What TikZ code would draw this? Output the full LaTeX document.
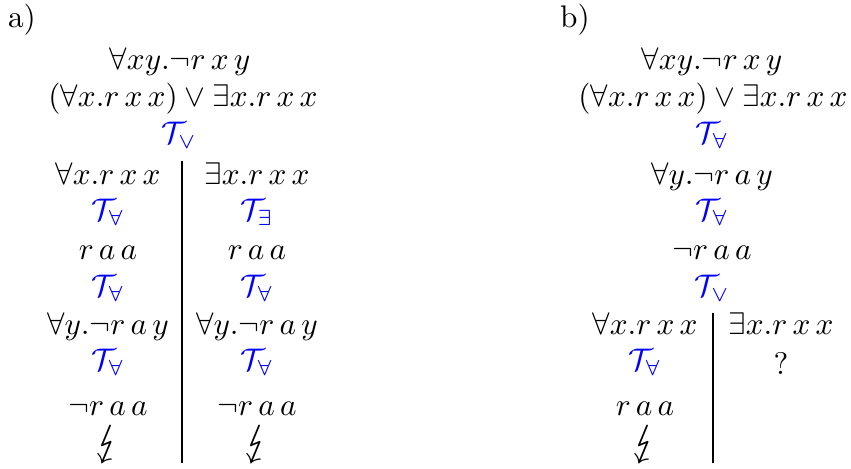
\documentclass[tikz,border=0pt]{standalone}
\usepackage{stmaryrd}
\newcommand{\bolt}{\scalebox{1.4}{$\lightning$}}
\begin{document}
\begin{tikzpicture}[x=0.32pt,y=-0.32pt,
  txt/.style={anchor=base,inner sep=0pt,outer sep=2pt},
  rule/.style={anchor=base,inner sep=0pt,outer sep=2pt,text=blue},
  branch/.style={line width=0.35pt}]
\useasboundingbox (0,0) rectangle (851,469);
% ---------- a) ----------
\node[txt] (la) at (22,28) {a)};
\node[txt] (a1) at (180,70) {$\forall xy.\neg r\,x\,y$};
\node[txt] (a2) at (183,107) {$(\forall x.r\,x\,x)\vee\exists x.r\,x\,x$};
\node[rule] (a3) at (179,144) {$\mathcal{T}_{\vee}$};
\coordinate (atop) at (182,161);
\coordinate (abot) at (182,463);
\draw[branch] (atop) -- (abot);
\node[txt] (aL1) at (108,185) {$\forall x.r\,x\,x$};
\node[rule] (aL2) at (108,221) {$\mathcal{T}_{\forall}$};
\node[txt] (aL3) at (108,260) {$r\,a\,a$};
\node[rule] (aL4) at (108,297) {$\mathcal{T}_{\forall}$};
\node[txt] (aL5) at (108,335) {$\forall y.\neg r\,a\,y$};
\node[rule] (aL6) at (108,371) {$\mathcal{T}_{\forall}$};
\node[txt] (aL7) at (108,416) {$\neg r\,a\,a$};
\node[txt] (aL8) at (108,456) {\bolt};
\node[txt] (aR1) at (257,185) {$\exists x.r\,x\,x$};
\node[rule] (aR2) at (257,221) {$\mathcal{T}_{\exists}$};
\node[txt] (aR3) at (257,260) {$r\,a\,a$};
\node[rule] (aR4) at (257,297) {$\mathcal{T}_{\forall}$};
\node[txt] (aR5) at (257,335) {$\forall y.\neg r\,a\,y$};
\node[rule] (aR6) at (257,371) {$\mathcal{T}_{\forall}$};
\node[txt] (aR7) at (257,416) {$\neg r\,a\,a$};
\node[txt] (aR8) at (257,456) {\bolt};
% ---------- b) ----------
\node[txt] (lb) at (575,28) {b)};
\node[txt] (b1) at (712,70) {$\forall xy.\neg r\,x\,y$};
\node[txt] (b2) at (713,107) {$(\forall x.r\,x\,x)\vee\exists x.r\,x\,x$};
\node[rule] (b3) at (712,144) {$\mathcal{T}_{\forall}$};
\node[txt] (b4) at (712,185) {$\forall y.\neg r\,a\,y$};
\node[rule] (b5) at (712,221) {$\mathcal{T}_{\forall}$};
\node[txt] (b6) at (712,260) {$\neg r\,a\,a$};
\node[rule] (b7) at (712,297) {$\mathcal{T}_{\vee}$};
\coordinate (btop) at (713,313);
\coordinate (bbot) at (713,463);
\draw[branch] (btop) -- (bbot);
\node[txt] (bL1) at (645,335) {$\forall x.r\,x\,x$};
\node[rule] (bL2) at (645,371) {$\mathcal{T}_{\forall}$};
\node[txt] (bL3) at (645,416) {$r\,a\,a$};
\node[txt] (bL4) at (645,456) {\bolt};
\node[txt] (bR1) at (781,335) {$\exists x.r\,x\,x$};
\node[txt] (bR2) at (781,375) {?};
\end{tikzpicture}
\end{document}
